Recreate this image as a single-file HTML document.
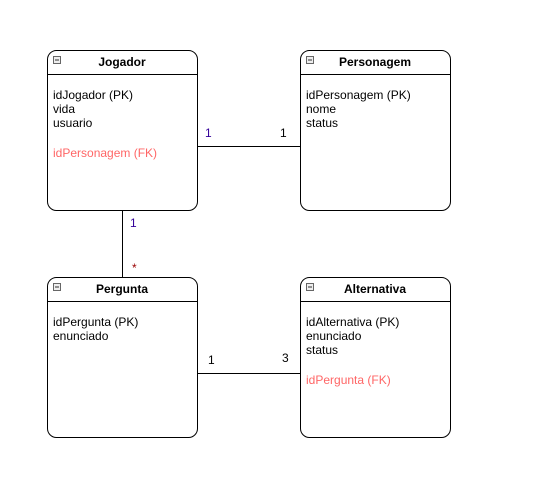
<!DOCTYPE html>
<html><head><style>body{margin:0;background:#fff}svg{display:block}</style></head><body>
<svg width="536" height="497" xmlns="http://www.w3.org/2000/svg" font-family="Liberation Sans, Arial, sans-serif" font-size="12">
<g fill="none" stroke="#000" stroke-width="1">
<line x1="197.5" y1="146.5" x2="300.5" y2="146.5"/>
<line x1="122.5" y1="210.5" x2="122.5" y2="277.5"/>
<line x1="197.5" y1="373.5" x2="300.5" y2="373.5"/>
</g>
<g id="boxes" fill="#fff" stroke="#000" stroke-width="1">
<rect x="47.5" y="50.5" width="150" height="160" rx="9"/>
<rect x="300.5" y="50.5" width="150" height="160" rx="9"/>
<rect x="47.5" y="277.5" width="150" height="160" rx="9"/>
<rect x="300.5" y="277.5" width="150" height="160" rx="9"/>
<line x1="47.5" y1="74.5" x2="197.5" y2="74.5"/>
<line x1="300.5" y1="74.5" x2="450.5" y2="74.5"/>
<line x1="47.5" y1="301.5" x2="197.5" y2="301.5"/>
<line x1="300.5" y1="301.5" x2="450.5" y2="301.5"/>
</g>
<g fill="#eee" stroke="#666" stroke-width="1">
<rect x="53.5" y="56.5" width="7" height="7"/>
<rect x="306.5" y="56.5" width="7" height="7"/>
<rect x="53.5" y="283.5" width="7" height="7"/>
<rect x="306.5" y="283.5" width="7" height="7"/>
</g>
<g stroke="#333"><line x1="55" y1="60" x2="59" y2="60"/><line x1="308" y1="60" x2="312" y2="60"/><line x1="55" y1="287" x2="59" y2="287"/><line x1="308" y1="287" x2="312" y2="287"/></g>
<g font-weight="bold" text-anchor="middle">
<text x="122" y="66">Jogador</text>
<text x="375" y="66">Personagem</text>
<text x="122" y="293">Pergunta</text>
<text x="375" y="293">Alternativa</text>
</g>
<text x="53" y="99">idJogador (PK)</text>
<text x="53" y="113">vida</text>
<text x="53" y="127">usuario</text>
<text x="53" y="157" fill="#ff6666">idPersonagem (FK)</text>
<text x="306" y="99">idPersonagem (PK)</text>
<text x="306" y="113">nome</text>
<text x="306" y="127">status</text>
<text x="53" y="326">idPergunta (PK)</text>
<text x="53" y="340">enunciado</text>
<text x="306" y="326">idAlternativa (PK)</text>
<text x="306" y="340">enunciado</text>
<text x="306" y="354">status</text>
<text x="306" y="384" fill="#ff6666">idPergunta (FK)</text>
<text x="205" y="137" fill="#330099">1</text>
<text x="280" y="137">1</text>
<text x="130" y="227" fill="#330099">1</text>
<text x="132" y="272" fill="#990000">*</text>
<text x="208" y="364">1</text>
<text x="282" y="362">3</text>
</svg>
</body></html>
